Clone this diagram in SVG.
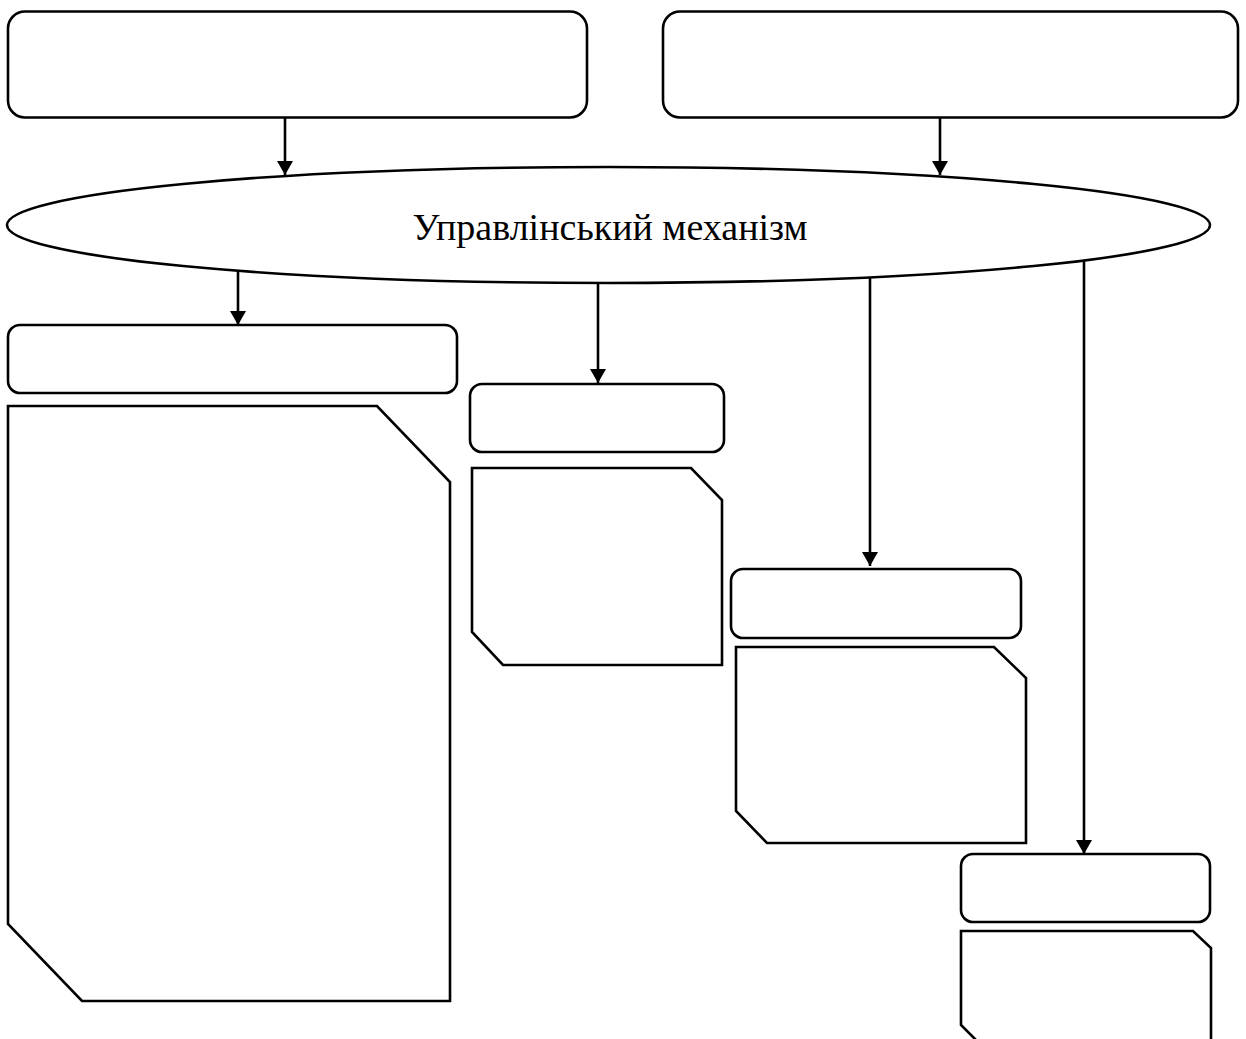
<svg xmlns="http://www.w3.org/2000/svg" width="1246" height="1039" viewBox="0 0 1246 1039">
<defs>
<style>
.box{fill:#fff;stroke:#000;stroke-width:2.6}
.conn{stroke:#000;stroke-width:2.6;fill:none}
.lbl{font-family:"Liberation Serif","Times New Roman",serif;font-size:38px;fill:#000}
</style>
<marker id="arr" markerUnits="userSpaceOnUse" markerWidth="18" markerHeight="18" refX="14" refY="8" orient="auto">
<path d="M0,0 L14,8 L0,16 z" fill="#000"/>
</marker>
</defs>
<rect width="1246" height="1039" fill="#fff"/>
<g id="connectors">
<line class="conn" x1="285" y1="118" x2="285" y2="175" marker-end="url(#arr)"/>
<line class="conn" x1="940" y1="118" x2="940" y2="175" marker-end="url(#arr)"/>
<line class="conn" x1="238" y1="270" x2="238" y2="325" marker-end="url(#arr)"/>
<line class="conn" x1="598" y1="280" x2="598" y2="383" marker-end="url(#arr)"/>
<line class="conn" x1="870" y1="275" x2="870" y2="566" marker-end="url(#arr)"/>
<line class="conn" x1="1084" y1="258" x2="1084" y2="854" marker-end="url(#arr)"/>
</g>
<g id="top-left"><rect class="box" x="8" y="11.5" width="579" height="106" rx="17"/></g>
<g id="top-right"><rect class="box" x="663" y="11.5" width="575" height="106" rx="17"/></g>
<g id="mechanism">
<ellipse class="box" cx="608.5" cy="225" rx="601.5" ry="58"/>
<text class="lbl" x="610" y="240" text-anchor="middle">Управлінський механізм</text>
</g>
<g id="box-l"><rect class="box" x="8" y="325" width="449" height="68" rx="12"/></g>
<g id="panel-l"><polygon class="box" points="8,406 377,406 450,482 450,1001 82,1001 8,924"/></g>
<g id="box-m"><rect class="box" x="470" y="384" width="254" height="68" rx="12"/></g>
<g id="panel-m"><polygon class="box" points="472,468 691,468 722,500 722,665 503,665 472,632"/></g>
<g id="box-r1"><rect class="box" x="731" y="569" width="290" height="69" rx="12"/></g>
<g id="panel-r1"><polygon class="box" points="736,647 994,647 1026,678 1026,843 767,843 736,811"/></g>
<g id="box-r2"><rect class="box" x="961" y="854" width="249" height="68" rx="12"/></g>
<g id="panel-r2"><polygon class="box" points="961,931 1193,931 1211,948 1211,1060 996,1060 961,1025"/></g>
</svg>
